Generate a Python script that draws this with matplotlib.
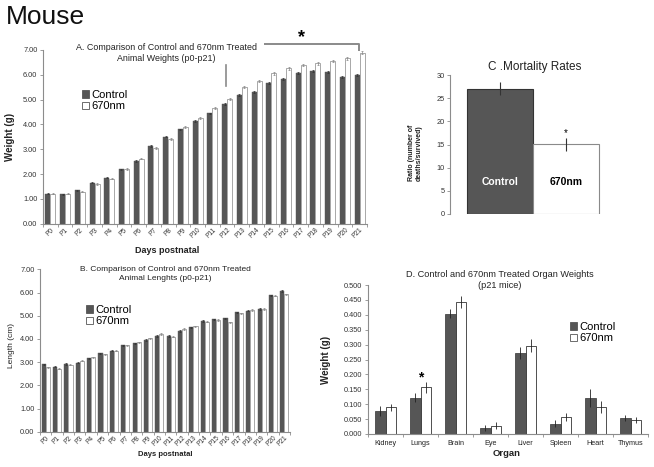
import matplotlib
matplotlib.use('Agg')
import matplotlib.pyplot as plt
from matplotlib.patches import Patch
from matplotlib.ticker import FormatStrFormatter, MultipleLocator, FixedLocator

plt.rcParams['font.family'] = ['Liberation Sans', 'DejaVu Sans']

# ---------------- data ----------------
days = ['P0', 'P1', 'P2', 'P3', 'P4', 'P5', 'P6', 'P7', 'P8', 'P9', 'P10',
        'P11', 'P12', 'P13', 'P14', 'P15', 'P16', 'P17', 'P18', 'P19', 'P20', 'P21']

weight_control = [1.22, 1.20, 1.36, 1.66, 1.86, 2.19, 2.53, 3.13, 3.51, 3.80, 4.15,
                  4.45, 4.83, 5.19, 5.30, 5.68, 5.84, 6.07, 6.15, 6.10, 5.92, 6.01]
weight_670 = [1.21, 1.21, 1.30, 1.60, 1.82, 2.21, 2.62, 3.04, 3.40, 3.89, 4.25,
              4.68, 5.03, 5.50, 5.75, 6.06, 6.26, 6.40, 6.46, 6.55, 6.66, 6.89]
weight_control_err = [0.02, 0.02, 0.02, 0.03, 0.03, 0.03, 0.03, 0.03, 0.03, 0.03, 0.03,
                      0.03, 0.03, 0.03, 0.03, 0.04, 0.04, 0.04, 0.04, 0.04, 0.04, 0.04]
weight_670_err = [0.02, 0.02, 0.02, 0.03, 0.03, 0.03, 0.03, 0.04, 0.04, 0.04, 0.04,
                  0.04, 0.04, 0.05, 0.05, 0.05, 0.05, 0.05, 0.05, 0.05, 0.05, 0.06]

length_control = [2.90, 2.80, 2.92, 2.97, 3.16, 3.38, 3.49, 3.72, 3.81, 3.95, 4.12,
                  4.12, 4.34, 4.50, 4.78, 4.84, 4.89, 5.14, 5.22, 5.29, 5.88, 6.06]
length_670 = [2.77, 2.72, 2.89, 3.06, 3.20, 3.33, 3.49, 3.72, 3.85, 4.02, 4.21,
              4.10, 4.43, 4.54, 4.74, 4.81, 4.71, 5.10, 5.24, 5.29, 5.86, 5.92]
length_control_err = [0.03, 0.03, 0.03, 0.03, 0.03, 0.03, 0.03, 0.03, 0.03, 0.03, 0.03,
                      0.03, 0.03, 0.03, 0.03, 0.03, 0.03, 0.03, 0.03, 0.03, 0.03, 0.03]
length_670_err = [0.03, 0.03, 0.03, 0.03, 0.03, 0.03, 0.03, 0.03, 0.03, 0.03, 0.03,
                  0.03, 0.03, 0.03, 0.03, 0.03, 0.03, 0.03, 0.03, 0.03, 0.03, 0.03]

groups = ['Control', '670nm']
mortality = [27.0, 15.1]
mortality_err = [1.4, 1.4]

organs = ['Kidney', 'Lungs', 'Brain', 'Eye', 'Liver', 'Spleen', 'Heart', 'Thymus']
organ_control = [0.077, 0.122, 0.404, 0.020, 0.273, 0.035, 0.120, 0.055]
organ_670 = [0.090, 0.157, 0.442, 0.028, 0.296, 0.058, 0.091, 0.047]
organ_control_err = [0.017, 0.016, 0.016, 0.009, 0.020, 0.011, 0.030, 0.010]
organ_670_err = [0.012, 0.018, 0.020, 0.011, 0.022, 0.013, 0.019, 0.010]

# ---------------- style ----------------
DARK = '#565656'
EDGE_LIGHT = '#9a9a9a'
SPINE = '#8c8c8c'
W, H = 654, 467

fig = plt.figure(figsize=(W / 100, H / 100), dpi=100)
fig.patch.set_facecolor('white')


def box(l, t, r, b):
    return [l / W, 1 - b / H, (r - l) / W, (b - t) / H]


def fx(x):
    return x / W


def fy(y):
    return 1 - y / H


def style_axes(ax):
    for s in ['top', 'right']:
        ax.spines[s].set_visible(False)
    for s in ['left', 'bottom']:
        ax.spines[s].set_color(SPINE)
        ax.spines[s].set_linewidth(0.8)
    ax.tick_params(axis='y', colors=SPINE, labelcolor='#333333', length=2.5, width=0.6,
                   labelsize=5.3, pad=1.5)


def legend_at(ax, x, y, fs=8):
    handles = [Patch(facecolor=DARK, edgecolor=DARK, linewidth=0.6),
               Patch(facecolor='white', edgecolor='#555555', linewidth=0.6)]
    ax.legend(handles, ['Control', '670nm'], loc='upper left',
              bbox_to_anchor=(fx(x), fy(y)), bbox_transform=fig.transFigure,
              frameon=False, fontsize=fs, handlelength=0.65, handleheight=0.65,
              handletextpad=0.15, labelspacing=0.12, borderpad=0, borderaxespad=0)


def day_bars(ax, ctrl, trt, ectrl, etrt, w):
    x = list(range(len(days)))
    xc = [i - w / 2 for i in x]
    xt = [i + w / 2 for i in x]
    ax.bar(xc, ctrl, width=w, color=DARK, edgecolor=DARK, linewidth=0.3)
    ax.bar(xt, trt, width=w, color='white', edgecolor=EDGE_LIGHT, linewidth=0.6)
    ax.errorbar(xc, ctrl, yerr=ectrl, fmt='none', ecolor='#333333', elinewidth=0.5,
                capsize=1.0, capthick=0.5)
    ax.errorbar(xt, trt, yerr=etrt, fmt='none', ecolor='#888888', elinewidth=0.5,
                capsize=1.0, capthick=0.5)
    ax.set_xlim(-0.5, len(days) - 0.5)
    ax.set_ylim(0, 7)
    ax.yaxis.set_major_locator(MultipleLocator(1))
    ax.yaxis.set_major_formatter(FormatStrFormatter('%.2f'))
    ax.set_xticks(x)
    ax.set_xticklabels(days, rotation=45, ha='right', rotation_mode='anchor',
                       fontsize=4.8, color='#333333')
    ax.tick_params(axis='x', length=0, pad=2)
    ax.xaxis.set_minor_locator(FixedLocator([i - 0.5 for i in range(len(days) + 1)]))
    ax.tick_params(axis='x', which='minor', length=2, color=SPINE, width=0.6)
    style_axes(ax)


# ---------------- title ----------------
fig.text(fx(6), fy(17), 'Mouse', fontsize=19, va='center', ha='left', color='#111111')

# ---------------- Panel A ----------------
axA = fig.add_axes(box(43, 50, 367, 223.8))
day_bars(axA, weight_control, weight_670, weight_control_err, weight_670_err, 0.34)
fig.text(fx(166), fy(53), 'A. Comparison of Control and 670nm Treated\nAnimal Weights (p0-p21)',
         ha='center', va='center', fontsize=6.4, linespacing=1.25, color='#222222')
fig.text(fx(167), fy(250), 'Days postnatal', ha='center', va='center', fontsize=6.5,
         fontweight='bold', color='#222222')
fig.text(fx(10), fy(137), 'Weight (g)', ha='center', va='center', rotation=90,
         fontsize=7, fontweight='bold', color='#222222')
legend_at(axA, 82, 90, fs=8)
# significance bracket
axA.plot([14.5, 20.97, 20.97], [7.25, 7.25, 6.94], color='#8a8a8a', lw=1.4,
         clip_on=False, solid_capstyle='butt')
axA.text(17.02, 7.50, '*', ha='center', va='center', fontsize=13, fontweight='bold')
axA.plot([11.93, 11.93], [5.54, 6.40], color='#8a8a8a', lw=1.2, clip_on=False)

# ---------------- Panel B ----------------
axB = fig.add_axes(box(40, 269.3, 290, 431.7))
day_bars(axB, length_control, length_670, length_control_err, length_670_err, 0.36)
fig.text(fx(165), fy(274), 'B. Comparison of Control and 670nm Treated\nAnimal Lenghts (p0-p21)',
         ha='center', va='center', fontsize=6.0, linespacing=1.25, color='#222222')
fig.text(fx(165), fy(455), 'Days postnatal', ha='center', va='center', fontsize=5.5,
         fontweight='bold', color='#222222')
fig.text(fx(12), fy(345), 'Length (cm)', ha='center', va='center', rotation=90,
         fontsize=6, color='#222222')
legend_at(axB, 86, 305, fs=8)

# ---------------- Panel C ----------------
axC = fig.add_axes(box(450, 75, 606, 214))
axC.bar([0, 1], mortality, width=1.0, color=[DARK, 'white'],
        edgecolor=['#333333', '#8a8a8a'], linewidth=[0.8, 0.8])
axC.errorbar([0, 1], mortality, yerr=mortality_err, fmt='none', ecolor='#333333',
             elinewidth=0.8, capsize=0)
axC.set_xlim(-0.75, 1.6)
axC.set_ylim(0, 30)
axC.yaxis.set_major_locator(MultipleLocator(5))
axC.set_xticks([])
style_axes(axC)
axC.spines['bottom'].set_visible(False)
axC.text(0, 7, groups[0], ha='center', va='center', color='white', fontsize=7.5,
         fontweight='bold')
axC.text(1, 7, groups[1], ha='center', va='center', color='black', fontsize=7.5,
         fontweight='bold')
axC.text(1, mortality[1] + 2.3, '*', ha='center', va='center', fontsize=7)
fig.text(fx(535), fy(67), 'C .Mortality Rates', ha='center', va='center', fontsize=8.5,
         color='#222222')
fig.text(fx(415), fy(153), 'Ratio (number of\ndeaths/survived)', ha='center', va='center',
         rotation=90, fontsize=5, fontweight='bold', linespacing=1.1, color='#222222')

# ---------------- Panel D ----------------
axD = fig.add_axes(box(368, 285, 648, 434))
wD = 0.29
xo = list(range(len(organs)))
xdc = [i - wD / 2 for i in xo]
xdt = [i + wD / 2 for i in xo]
axD.bar(xdc, organ_control, width=wD, color=DARK, edgecolor='#333333', linewidth=0.5)
axD.bar(xdt, organ_670, width=wD, color='white', edgecolor='#333333', linewidth=0.6)
axD.errorbar(xdc, organ_control, yerr=organ_control_err, fmt='none', ecolor='#222222',
             elinewidth=0.6, capsize=0)
axD.errorbar(xdt, organ_670, yerr=organ_670_err, fmt='none', ecolor='#222222',
             elinewidth=0.6, capsize=0)
axD.set_xlim(-0.5, len(organs) - 0.5)
axD.set_ylim(0, 0.5)
axD.yaxis.set_major_locator(MultipleLocator(0.05))
axD.yaxis.set_major_formatter(FormatStrFormatter('%.3f'))
axD.set_xticks(xo)
axD.set_xticklabels(organs, fontsize=5.2, color='#222222')
axD.tick_params(axis='x', length=0, pad=4)
axD.xaxis.set_minor_locator(FixedLocator([i - 0.5 for i in range(len(organs) + 1)]))
axD.tick_params(axis='x', which='minor', length=2, color=SPINE, width=0.6)
style_axes(axD)
axD.text(1, 0.19, '*', ha='center', va='center', fontsize=10, fontweight='bold')
fig.text(fx(500), fy(280), 'D. Control and 670nm Treated Organ Weights\n(p21 mice)',
         ha='center', va='center', fontsize=6.6, linespacing=1.2, color='#222222')
fig.text(fx(507), fy(453), 'Organ', ha='center', va='center', fontsize=6.8,
         fontweight='bold', color='#222222')
fig.text(fx(326), fy(360), 'Weight (g)', ha='center', va='center', rotation=90,
         fontsize=7, fontweight='bold', color='#222222')
legend_at(axD, 570, 322, fs=8)

fig.savefig('out.png', dpi=100, facecolor='white')
